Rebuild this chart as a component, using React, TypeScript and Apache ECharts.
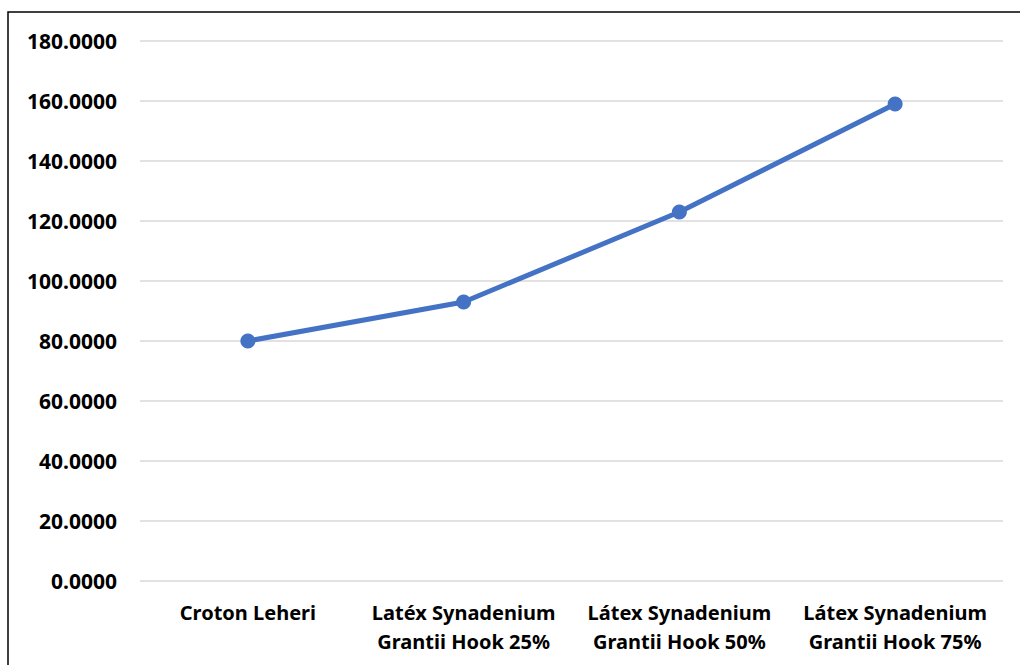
import React, { useEffect, useRef } from "react";
import * as echarts from "echarts";

const categories = [
  "Croton Leheri",
  "Latéx Synadenium\nGrantii Hook 25%",
  "Látex Synadenium\nGrantii Hook 50%",
  "Látex Synadenium\nGrantii Hook 75%",
];
const values = [80, 93, 123, 159];
const yMin = 0;
const yMax = 180;
const yInterval = 20;

export default function App() {
  const ref = useRef<HTMLDivElement>(null);
  useEffect(() => {
    if (!ref.current) return;
    const chart = echarts.init(ref.current, null, { renderer: "svg" });
    const font = "'Noto Sans', 'Open Sans', sans-serif";
    chart.setOption({
      animation: false,
      backgroundColor: "#ffffff",
      grid: { left: 140, right: 17, top: 41, bottom: 84, containLabel: false },
      graphic: [
        {
          type: "rect",
          shape: { x: 8, y: 12, width: 1100, height: 800 },
          style: { fill: "none", stroke: "#000000", lineWidth: 1.5 },
          silent: true,
        },
      ],
      xAxis: {
        type: "category",
        data: categories,
        boundaryGap: true,
        axisLine: { show: false },
        axisTick: { show: false },
        axisLabel: {
          color: "#000000",
          fontFamily: font,
          fontWeight: "bold",
          fontSize: 20,
          lineHeight: 29,
          margin: 17,
          interval: 0,
        },
      },
      yAxis: {
        type: "value",
        min: yMin,
        max: yMax,
        interval: yInterval,
        axisLine: { show: false },
        axisTick: { show: false },
        splitLine: { lineStyle: { color: "#d9d9d9", width: 1.5 } },
        axisLabel: {
          color: "#000000",
          fontFamily: font,
          fontWeight: "bold",
          fontSize: 21,
          margin: 23,
          formatter: (v: number) => v.toFixed(4),
        },
      },
      series: [
        {
          type: "line",
          data: values,
          symbol: "circle",
          symbolSize: 15,
          lineStyle: { color: "#4472C4", width: 5 },
          itemStyle: { color: "#4472C4" },
        },
      ],
    });
    return () => chart.dispose();
  }, []);
  return (
    <div
      ref={ref}
      style={{ position: "fixed", left: 0, top: 0, width: 1020, height: 665 }}
    />
  );
}
